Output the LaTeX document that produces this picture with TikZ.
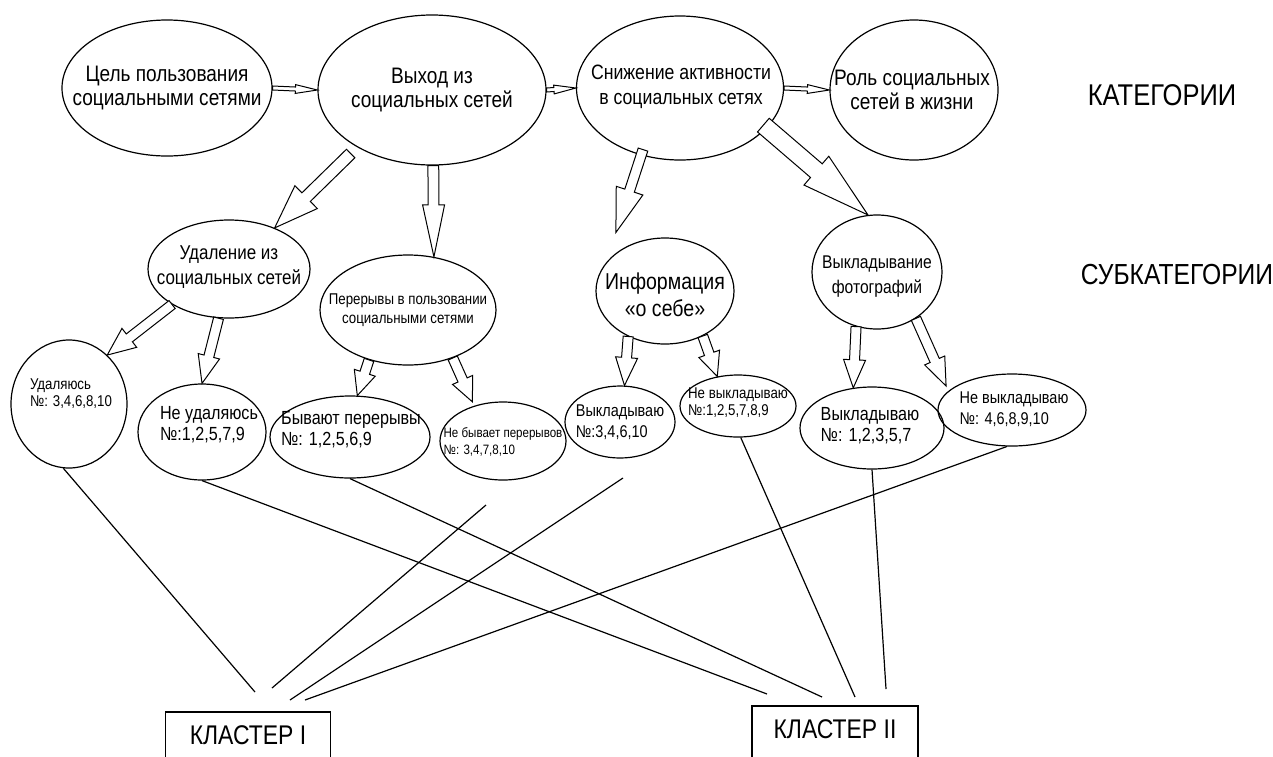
\documentclass[tikz,border=0pt]{standalone}
\usepackage{fontspec}
\setmainfont{Liberation Sans}[FakeStretch=0.85]
\usetikzlibrary{shapes.geometric,calc}

% hollow block arrow: start, tip, shaft half width, head half width, head length
\newcommand{\hollowarrow}[5]{%
  \coordinate (ha-s) at (#1);
  \coordinate (ha-t) at (#2);
  \coordinate (ha-b) at ($(ha-t)!#5!(ha-s)$);
  \draw[harrow] ($(ha-s)!#3!90:(ha-t)$) -- ($(ha-b)!#3!90:(ha-t)$) -- ($(ha-b)!#4!90:(ha-t)$) -- (ha-t) -- ($(ha-b)!#4!-90:(ha-t)$) -- ($(ha-b)!#3!-90:(ha-t)$) -- ($(ha-s)!#3!-90:(ha-t)$) -- cycle;
}

\begin{document}
\begin{tikzpicture}[x=0.5pt,y=-0.5pt,
  ell/.style={draw, ellipse, inner sep=0pt, line width=0.6pt},
  harrow/.style={draw, fill=white, line width=0.5pt, line join=miter},
  link/.style={line width=0.6pt},
  box/.style={draw, rectangle, inner sep=0pt, line width=0.8pt},
  fA/.style={font=\fontsize{11.2}{12.2}\selectfont, align=center},
  fA2/.style={font=\fontsize{10.4}{12.2}\selectfont, align=center},
  fB/.style={font=\fontsize{10}{12.5}\selectfont, align=center},
  fB2/.style={font=\fontsize{9.2}{12.5}\selectfont, align=center},
  fC/.style={font=\fontsize{7.8}{9.5}\selectfont, align=center},
  fD/.style={font=\fontsize{11.5}{13.5}\selectfont, align=center},
  fL/.style={font=\fontsize{9.5}{10.5}\selectfont, align=left},
  fM/.style={font=\fontsize{8.5}{10.5}\selectfont, align=left},
  fS/.style={font=\fontsize{7.8}{8.5}\selectfont, align=left},
  fT/.style={font=\fontsize{6.8}{8.5}\selectfont, align=left},
  head/.style={font=\fontsize{15}{17}\selectfont},
  head2/.style={font=\fontsize{14.5}{17}\selectfont},
  cl/.style={font=\fontsize{13.5}{15}\selectfont},
]
\useasboundingbox (0,0) rectangle (1273,756);

% categories
\node[ell, minimum width=105pt, minimum height=68pt] (e1) at (167,88) {};
\node[fA] (e1t) at (167,88) {Цель пользования\\социальными сетями};
\node[ell, minimum width=114pt, minimum height=75pt] (e2) at (432,90) {};
\node[fA] (e2t) at (432,90) {Выход из\\социальных сетей};
\node[ell, minimum width=103.5pt, minimum height=72pt] (e3) at (680,88) {};
\node[fA2] (e3t) at (681,87) {Снижение активности\\в социальных сетях};
\node[ell, minimum width=84pt, minimum height=70pt] (e4) at (914,90) {};
\node[fA] (e4t) at (912,90) {Роль социальных\\сетей в жизни};
\node[head] (kat) at (1162,95) {КАТЕГОРИИ};

% subcategories
\node[ell, minimum width=81pt, minimum height=49pt] (s1) at (229,269) {};
\node[fB] (s1t) at (229,267) {Удаление из\\социальных сетей};
\node[ell, minimum width=88pt, minimum height=55pt] (s2) at (408,310) {};
\node[fC] (s2t) at (408,310) {Перерывы в пользовании\\социальными сетями};
\node[ell, minimum width=69pt, minimum height=53pt] (s3) at (665,291) {};
\node[fD] (s3t) at (665,295) {Информация\\«о себе»};
\node[ell, minimum width=65pt, minimum height=57pt] (s4) at (877,272) {};
\node[fB2] (s4t) at (877,277) {Выкладывание\\фотографий};
\node[head2] (sub) at (1177,275) {СУБКАТЕГОРИИ};

% leaves
\node[ell, minimum width=58pt, minimum height=64pt] (l1) at (69,404) {};
\node[fS] (l1t) at (71,394) {Удаляюсь\\№: 3,4,6,8,10};
\node[ell, minimum width=64pt, minimum height=48pt] (l2) at (202,432) {};
\node[fL] (l2t) at (209,425) {Не удаляюсь\\№:1,2,5,7,9};
\node[ell, minimum width=80pt, minimum height=41pt] (l3) at (350,437) {};
\node[fL] (l3t) at (351,430) {Бывают перерывы\\№: 1,2,5,6,9};
\node[ell, minimum width=63pt, minimum height=39pt] (l4) at (503,441) {};
\node[fT] (l4t) at (503,442) {Не бывает перерывов\\№: 3,4,7,8,10};
\node[ell, minimum width=55pt, minimum height=36pt] (l5) at (620,422) {};
\node[fM] (l5t) at (620,422) {Выкладываю\\№:3,4,6,10};
\node[ell, minimum width=58pt, minimum height=31pt] (l6) at (738,406) {};
\node[fS] (l6t) at (738,403) {Не выкладываю\\№:1,2,5,7,8,9};
\node[ell, minimum width=72pt, minimum height=41pt] (l7) at (872,428) {};
\node[fL] (l7t) at (870,426) {Выкладываю\\№: 1,2,3,5,7};
\node[ell, minimum width=74pt, minimum height=36pt] (l8) at (1012,410) {};
\node[fM] (l8t) at (1014,409) {Не выкладываю\\№: 4,6,8,9,10};

% clusters
\node[box, minimum width=82.5pt, minimum height=24pt] (c1) at (248,736) {};
\node[cl] (c1t) at (248,735) {КЛАСТЕР I};
\node[box, minimum width=83pt, minimum height=27pt] (c2) at (835,733) {};
\node[cl] (c2t) at (835,729) {КЛАСТЕР II};

% category arrows
\hollowarrow{e1.east}{e2.west}{1pt}{2.2pt}{11pt}
\hollowarrow{e2.east}{e3.west}{1pt}{2.2pt}{11pt}
\hollowarrow{e3.east}{e4.west}{1pt}{2.2pt}{11pt}

% category -> subcategory arrows
\hollowarrow{$(e2.center)!1.1!(e2.218)$}{s1.42}{3pt}{8pt}{22pt}
\hollowarrow{e2.271}{s2.64}{2.7pt}{5.5pt}{26pt}
\hollowarrow{$(e3.center)!0.92!(e3.239)$}{$(s3.center)!1.3!(s3.130)$}{2.5pt}{7pt}{22pt}
\hollowarrow{$(e3.center)!0.95!(e3.-24)$}{s4.99}{4.5pt}{9.5pt}{34pt}

% subcategory -> leaf arrows
\hollowarrow{s1.212}{l1.52}{2.5pt}{6pt}{14pt}
\hollowarrow{s1.258}{l2.90}{2.5pt}{5.5pt}{14pt}
\hollowarrow{s2.232}{l3.80}{2.5pt}{5.5pt}{12pt}
\hollowarrow{s2.-47}{$(l4.center)!1.1!(l4.128)$}{2.5pt}{5.5pt}{12pt}
\hollowarrow{s3.231}{l5.83}{2.5pt}{5.5pt}{14pt}
\hollowarrow{s3.-50}{l6.125}{2.5pt}{5.5pt}{12pt}
\hollowarrow{s4.249}{l7.115}{2.5pt}{5.5pt}{14pt}
\hollowarrow{s4.-50}{$(l8.center)!1.1!(l8.160)$}{2.5pt}{5.5pt}{14pt}

% free ends of the connectors
\coordinate (k1a) at (255,692);
\coordinate (k1b) at (272,688);
\coordinate (k1c) at (290,700);
\coordinate (k1d) at (305,700);
\coordinate (k2a) at (767,694);
\coordinate (k2b) at (822,697);
\coordinate (k2c) at (855,697);
\coordinate (k2d) at (886,689);
\coordinate (f1) at (486,505);
\coordinate (f2) at (623,478);

\draw[link] (l1.265) -- (k1a);
\draw[link] (f1) -- (k1b);
\draw[link] (f2) -- (k1c);
\draw[link] (l8.262) -- (k1d);
\draw[link] (l2.south) -- (k2a);
\draw[link] (l3.south) -- (k2b);
\draw[link] (l6.275) -- (k2c);
\draw[link] (l7.south) -- (k2d);
\end{tikzpicture}
\end{document}
